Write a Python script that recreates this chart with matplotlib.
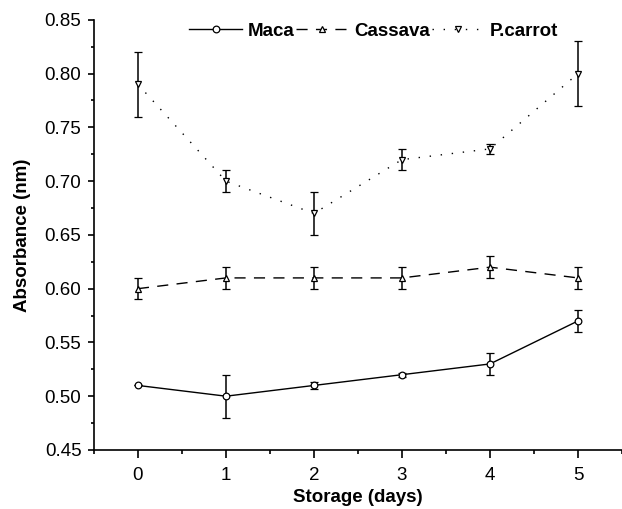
import numpy as np
import matplotlib.pyplot as plt
from matplotlib.lines import Line2D

plt.rcParams['font.family'] = ['Liberation Sans', 'DejaVu Sans']

# DATA
days = [0, 1, 2, 3, 4, 5]
maca = [0.51, 0.50, 0.51, 0.52, 0.53, 0.57]
maca_err = [0.0, 0.02, 0.003, 0.002, 0.01, 0.01]
cassava = [0.60, 0.61, 0.61, 0.61, 0.62, 0.61]
cassava_err = [0.01, 0.01, 0.01, 0.01, 0.01, 0.01]
carrot = [0.79, 0.70, 0.67, 0.72, 0.73, 0.80]
carrot_err = [0.03, 0.01, 0.02, 0.01, 0.005, 0.03]

fig = plt.figure(figsize=(6.22, 5.09), dpi=100)
ax = fig.add_axes([0.151, 0.116, 0.849, 0.845])

mk = dict(markersize=4.8, markerfacecolor='white', markeredgecolor='black', markeredgewidth=0.9)
common = dict(color='black', lw=1.0, capsize=3, capthick=1.1, elinewidth=1.1, **mk)
styles = ['-', (0, (8, 6)), (0, (1, 7))]
markers = ['o', '^', 'v']
names = ['Maca', 'Cassava', 'P.carrot']

for vals, errs, ls, m in zip([maca, cassava, carrot], [maca_err, cassava_err, carrot_err], styles, markers):
    ax.errorbar(days, vals, yerr=errs, linestyle=ls, marker=m, **common)

ax.set_xlim(-0.5, 5.5)
ax.set_ylim(0.45, 0.85)
ax.set_xticks(days)
ax.set_xticks(np.arange(-0.5, 5.6, 0.5), minor=True)
ax.set_yticks(np.arange(0.45, 0.851, 0.05))
ax.set_yticks(np.arange(0.45, 0.851, 0.025), minor=True)
ax.yaxis.set_major_formatter(plt.FormatStrFormatter('%.2f'))

for s in ['top', 'right']:
    ax.spines[s].set_visible(False)
for s in ['left', 'bottom']:
    ax.spines[s].set_linewidth(1.2)
ax.tick_params(axis='x', which='major', direction='out', length=6, width=1.2, labelsize=13.5, pad=6)
ax.tick_params(axis='x', which='minor', direction='out', length=3, width=1.2)
ax.tick_params(axis='y', which='major', direction='out', length=4, width=1.2, labelsize=13.5, pad=5)
ax.tick_params(axis='y', which='minor', direction='out', length=2, width=1.2)

ax.set_xlabel('Storage (days)', fontsize=13.5, fontweight='bold', labelpad=4)
ax.set_ylabel('Absorbance (nm)', fontsize=13.5, fontweight='bold', labelpad=10)

handles = [Line2D([], [], color='black', lw=1.0, linestyle=ls, marker=m, **mk)
           for ls, m in zip(styles, markers)]
ax.legend(handles, names, loc='center', bbox_to_anchor=(0.53, 0.974), ncol=3, frameon=False,
          handlelength=2.8, handletextpad=0.3, columnspacing=0.1, borderpad=0,
          prop={'weight': 'bold', 'size': 13.5})

plt.savefig('out.png', dpi=100)
